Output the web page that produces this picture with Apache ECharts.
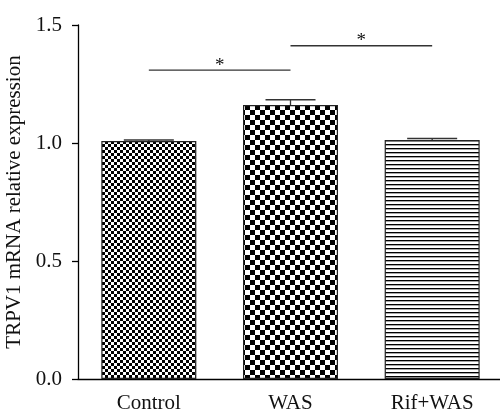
<!DOCTYPE html>
<html>
<head>
<meta charset="utf-8">
<script src="https://cdn.jsdelivr.net/npm/echarts@6/dist/echarts.min.js"></script>
<style>html,body{margin:0;padding:0;background:#fff}#c{width:500px;height:413px}</style>
</head>
<body>
<div id="c"></div>
<script>
var categories = ['Control', 'WAS', 'Rif+WAS'];
var means = [1.008, 1.161, 1.013];
var sems = [0.005, 0.022, 0.006];
var yTicks = [0, 0.5, 1.0, 1.5];
var sigPairs = [[0, 1, 1.309], [1, 2, 1.412]];
var sigLabels = ['*', '*'];

function makePattern(kind) {
  var cv = document.createElement('canvas');
  var ctx;
  if (kind === 'small') {
    cv.width = 6; cv.height = 6; ctx = cv.getContext('2d');
    ctx.fillStyle = '#fff'; ctx.fillRect(0, 0, 6, 6);
    ctx.fillStyle = '#000'; ctx.fillRect(0, 0, 3, 3); ctx.fillRect(3, 3, 3, 3);
  } else if (kind === 'big') {
    cv.width = 10; cv.height = 10; ctx = cv.getContext('2d');
    ctx.fillStyle = '#fff'; ctx.fillRect(0, 0, 10, 10);
    ctx.fillStyle = '#000'; ctx.fillRect(0, 0, 5, 5); ctx.fillRect(5, 5, 5, 5);
  } else {
    cv.width = 4; cv.height = 4; ctx = cv.getContext('2d');
    ctx.fillStyle = '#fff'; ctx.fillRect(0, 0, 4, 4);
    ctx.fillStyle = '#000'; ctx.fillRect(0, 0, 4, 1);
    ctx.fillStyle = 'rgba(0,0,0,0.35)'; ctx.fillRect(0, 1, 4, 1);
  }
  return { image: cv, repeat: 'repeat' };
}
var patterns = [makePattern('small'), makePattern('big'), makePattern('lines')];

var barData = means.map(function (m, i) {
  return { value: m, itemStyle: { color: patterns[i] } };
});
var errData = means.map(function (m, i) { return [i, m, m + sems[i]]; });
var sigData = sigPairs.map(function (p) { return [p[0], p[1], p[2]]; });

var font = '"Liberation Serif", "Times New Roman", serif';
var chart = echarts.init(document.getElementById('c'));
chart.setOption({
  animation: false,
  backgroundColor: '#fff',
  grid: { left: 78, top: 25, width: 425, bottom: 34, containLabel: false, outerBoundsMode: 'none' },
  xAxis: {
    type: 'category',
    data: categories,
    axisLine: { lineStyle: { color: '#000', width: 1.3 } },
    axisTick: { alignWithLabel: true, length: 6, lineStyle: { color: '#000', width: 1.3 } },
    axisLabel: { color: '#111', fontFamily: font, fontSize: 21, margin: 14 },
    splitLine: { show: false }
  },
  yAxis: {
    type: 'value',
    min: 0, max: 1.5, interval: 0.5,
    name: 'TRPV1 mRNA relative expression',
    nameLocation: 'middle',
    nameGap: 49,
    nameTextStyle: { color: '#111', fontFamily: font, fontSize: 21 },
    axisLine: { show: true, lineStyle: { color: '#000', width: 1.3 } },
    axisTick: { show: true, length: 6, lineStyle: { color: '#000', width: 1.3 } },
    axisLabel: { color: '#111', fontFamily: font, fontSize: 21, margin: 16,
      formatter: function (v) { return yTicks.indexOf(v) >= 0 ? v.toFixed(1) : ''; } },
    splitLine: { show: false }
  },
  series: [
    {
      type: 'bar',
      data: barData,
      barWidth: 95,
      itemStyle: { borderColor: '#222', borderWidth: 1.2 },
      z: 2
    },
    {
      type: 'custom',
      data: errData,
      encode: { x: 0, y: [1, 2] },
      z: 3,
      renderItem: function (params, api) {
        var b = api.coord([api.value(0), api.value(1)]);
        var t = api.coord([api.value(0), api.value(2)]);
        var hw = 25;
        return {
          type: 'group',
          children: [
            { type: 'line', shape: { x1: t[0], y1: b[1], x2: t[0], y2: t[1] }, style: { stroke: '#333', lineWidth: 1.3 } },
            { type: 'line', shape: { x1: t[0] - hw, y1: t[1], x2: t[0] + hw, y2: t[1] }, style: { stroke: '#333', lineWidth: 1.6 } }
          ]
        };
      }
    },
    {
      type: 'custom',
      data: sigData,
      encode: { x: [0, 1], y: 2 },
      z: 3,
      renderItem: function (params, api) {
        var p1 = api.coord([api.value(0), api.value(2)]);
        var p2 = api.coord([api.value(1), api.value(2)]);
        return {
          type: 'group',
          children: [
            { type: 'line', shape: { x1: p1[0], y1: p1[1], x2: p2[0], y2: p2[1] }, style: { stroke: '#333', lineWidth: 1.3 } },
            { type: 'text', style: { text: sigLabels[params.dataIndex], x: (p1[0] + p2[0]) / 2, y: p1[1] + 5,
              align: 'center', verticalAlign: 'bottom', font: '19px ' + font, fill: '#111' } }
          ]
        };
      }
    }
  ]
});
</script>
</body>
</html>
